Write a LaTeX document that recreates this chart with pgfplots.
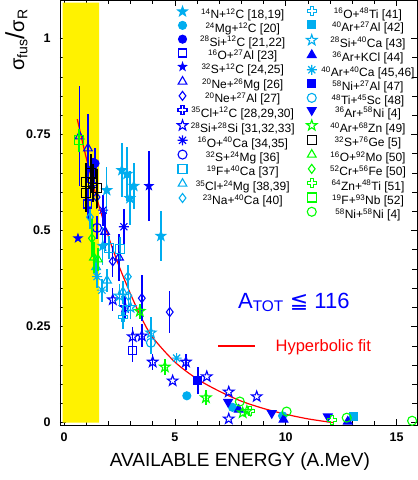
\documentclass[border=0pt]{standalone}
\usepackage{pgfplots}
\pgfplotsset{compat=1.18}
\usepackage{fontspec}
\setmainfont{Liberation Sans}
\newfontfamily\djv{DejaVu Sans}
\usetikzlibrary{plotmarks}

% ROOT-like marker shapes
\def\starpath{%
  \pgfpathmoveto{\pgfpointpolar{90}{\pgfplotmarksize}}%
  \pgfpathlineto{\pgfpointpolar{126}{0.4*\pgfplotmarksize}}%
  \pgfpathlineto{\pgfpointpolar{162}{\pgfplotmarksize}}%
  \pgfpathlineto{\pgfpointpolar{198}{0.4*\pgfplotmarksize}}%
  \pgfpathlineto{\pgfpointpolar{234}{\pgfplotmarksize}}%
  \pgfpathlineto{\pgfpointpolar{270}{0.4*\pgfplotmarksize}}%
  \pgfpathlineto{\pgfpointpolar{306}{\pgfplotmarksize}}%
  \pgfpathlineto{\pgfpointpolar{342}{0.4*\pgfplotmarksize}}%
  \pgfpathlineto{\pgfpointpolar{18}{\pgfplotmarksize}}%
  \pgfpathlineto{\pgfpointpolar{54}{0.4*\pgfplotmarksize}}%
  \pgfpathclose}
\pgfdeclareplotmark{fstar}{\starpath\pgfusepathqfillstroke}
\pgfdeclareplotmark{ostar}{\starpath\pgfusepathqstroke}
\pgfdeclareplotmark{ocross}{%
  \pgfpathmoveto{\pgfpoint{0.33*\pgfplotmarksize}{\pgfplotmarksize}}%
  \pgfpathlineto{\pgfpoint{0.33*\pgfplotmarksize}{0.33*\pgfplotmarksize}}%
  \pgfpathlineto{\pgfpoint{\pgfplotmarksize}{0.33*\pgfplotmarksize}}%
  \pgfpathlineto{\pgfpoint{\pgfplotmarksize}{-0.33*\pgfplotmarksize}}%
  \pgfpathlineto{\pgfpoint{0.33*\pgfplotmarksize}{-0.33*\pgfplotmarksize}}%
  \pgfpathlineto{\pgfpoint{0.33*\pgfplotmarksize}{-\pgfplotmarksize}}%
  \pgfpathlineto{\pgfpoint{-0.33*\pgfplotmarksize}{-\pgfplotmarksize}}%
  \pgfpathlineto{\pgfpoint{-0.33*\pgfplotmarksize}{-0.33*\pgfplotmarksize}}%
  \pgfpathlineto{\pgfpoint{-\pgfplotmarksize}{-0.33*\pgfplotmarksize}}%
  \pgfpathlineto{\pgfpoint{-\pgfplotmarksize}{0.33*\pgfplotmarksize}}%
  \pgfpathlineto{\pgfpoint{-0.33*\pgfplotmarksize}{0.33*\pgfplotmarksize}}%
  \pgfpathlineto{\pgfpoint{-0.33*\pgfplotmarksize}{\pgfplotmarksize}}%
  \pgfpathclose\pgfusepathqstroke}
\pgfdeclareplotmark{ast}{%
  \pgfpathmoveto{\pgfpointpolar{0}{\pgfplotmarksize}}\pgfpathlineto{\pgfpointpolar{180}{\pgfplotmarksize}}%
  \pgfpathmoveto{\pgfpointpolar{45}{\pgfplotmarksize}}\pgfpathlineto{\pgfpointpolar{225}{\pgfplotmarksize}}%
  \pgfpathmoveto{\pgfpointpolar{90}{\pgfplotmarksize}}\pgfpathlineto{\pgfpointpolar{270}{\pgfplotmarksize}}%
  \pgfpathmoveto{\pgfpointpolar{135}{\pgfplotmarksize}}\pgfpathlineto{\pgfpointpolar{315}{\pgfplotmarksize}}%
  \pgfusepathqstroke}

\newcommand\su[1]{\textsuperscript{#1}}
\newcommand\lgA[1]{\makebox[108pt]{#1}}
\newcommand\lgB[1]{\makebox[100pt]{#1}}

\pgfplotsset{
  frame/.style={
    scale only axis, width=357pt, height=425pt, at={(0,0)}, anchor=south west,
    xmin=-0.18, xmax=15.92, ymin=-0.006, ymax=1.1,
    clip=true,
  },
  ser/.style={only marks, color=#1, mark size=4pt, line width=1.1pt,
    error bars/y dir=both, error bars/y explicit, error bars/error mark=none,
    error bars/error bar style={line width=1.4pt}},
  lgd/.style={legend cell align=center,
    legend style={draw=none, fill=none, inner sep=0pt, row sep=0.3pt, column sep=1pt,
      font=\fontsize{12}{13}\selectfont,
      nodes={inner sep=0pt, text height=8.5pt, text depth=2.5pt}},
    legend image code/.code={\draw[##1] plot coordinates {(0pt,4pt)};}},
}

\begin{document}
\begin{tikzpicture}
\useasboundingbox (-60pt,-55pt) rectangle (358pt,425pt);
\begin{axis}[frame, lgd,
  legend style={at={(axis description cs:0.328,0.985)}, anchor=north west},
  xtick={0,5,10,15}, xticklabels={0,5,10,15},
  ytick={0,0.25,0.5,0.75,1}, yticklabels={0,0.25,0.5,0.75,1},
  minor x tick num=4, minor y tick num=4,
  major tick length=6pt, minor tick length=4.5pt,
  tick style={black, line width=0.6pt},
  axis line style={line width=0.8pt},
  tick label style={font=\fontsize{12.5}{14}\selectfont\bfseries},
  /pgf/number format/assume math mode=true,
  xticklabel style={yshift=-4pt},
  yticklabel style={xshift=-6pt},
  xlabel={AVAILABLE ENERGY (A.MeV)},
  xlabel style={font=\fontsize{19}{21}\selectfont, at={(axis description cs:0.504,-0.0965)}, anchor=base},
  ylabel={σ\textsubscript{fus}{\fontsize{26}{26}\selectfont/}σ\textsubscript{R}},
  ylabel style={font=\fontsize{20}{22}\selectfont, at={(axis description cs:-0.122,0.906)}, anchor=center},
]
% yellow band
\addplot[fill=yellow, draw=none, forget plot] coordinates {(-0.06,0) (1.59,0) (1.59,1.093) (-0.06,1.093)} \closedcycle;

% hyperbolic fit
\addplot[red, line width=1.2pt, smooth, forget plot] coordinates {
(0.6,0.79) (1.0,0.69) (1.5,0.58) (2.0,0.485) (2.5,0.405) (3.0,0.335) (3.5,0.272) (4.0,0.222)
(5.0,0.158) (6.0,0.114) (7.0,0.082) (8.0,0.056) (9.0,0.037) (10.0,0.022) (11.0,0.01) (12.15,0)};

\addplot[ser=cyan, mark=fstar, mark size=5pt] coordinates {
(1.93,0.605) +- (0,0.06) (2.61,0.657) +- (0,0.07) (2.84,0.647) +- (0,0.07) (3.15,0.616) +- (0,0.06)
(2.97,0.584) +- (0,0.07) (4.37,0.486) +- (0,0.065) (1.75,0.46) +- (0,0.05)};
\addlegendentry{\lgA{\su{14}N+\su{12}C [18,19]}}
\addplot[ser=cyan, mark=*] coordinates {(5.54,0.07) +- (0,0) (7.6,0.04) +- (0,0) (9.86,0.018) +- (0,0)};
\addlegendentry{\lgA{\su{24}Mg+\su{12}C [20]}}
\addplot[ser=blue, mark=*] coordinates {(1.4,0.675) +- (0,0.04) (1.3,0.66) +- (0,0.03)};
\addlegendentry{\lgA{\su{28}Si+\su{12}C [21,22]}}
\addplot[ser=blue, mark=square] coordinates {(3.1,0.187) +- (0,0.03) (1.08,0.569) +- (0,0.04)};
\addlegendentry{\lgA{\su{16}O+\su{27}Al [23]}}
\addplot[ser=blue, mark=fstar, mark size=4pt] coordinates {(3.83,0.616) +- (0,0.09) (0.63,0.48) +- (0,0)};
\addlegendentry{\lgA{\su{32}S+\su{12}C [24,25]}}
\addplot[ser=blue, mark=triangle, mark size=5pt] coordinates {
(0.7,0.745) +- (0,0.13) (1.08,0.714) +- (0,0.09) (1.85,0.497) +- (0,0.05) (2.48,0.43) +- (0,0.06)};
\addlegendentry{\lgA{\su{20}Ne+\su{26}Mg [26]}}
\addplot[ser=blue, mark=diamond, mark size=4.5pt] coordinates {
(4.77,0.288) +- (0,0.055) (3.51,0.324) +- (0,0.06) (1.47,0.587) +- (0,0.03) (2.2,0.42) +- (0,0.04)};
\addlegendentry{\lgA{\su{20}Ne+\su{27}Al [27]}}
\addplot[ser=blue, mark=ocross, mark size=4.5pt] coordinates {(1.3,0.62) +- (0,0.04)};
\addlegendentry{\lgA{\su{35}Cl+\su{12}C [28,29,30]}}
\addplot[ser=blue, mark=ostar, mark size=5.5pt] coordinates {
(2.2,0.32) +- (0,0.03) (2.75,0.30) +- (0,0.03) (3.1,0.224) +- (0,0.024) (3.51,0.226) +- (0,0.03)
(4.0,0.158) +- (0,0.02) (4.9,0.109) +- (0,0) (5.5,0.158) +- (0,0.02) (6.44,0.12) +- (0,0)
(7.43,0.08) +- (0,0) (7.43,0.01) +- (0,0) (8.69,0.068) +- (0,0)};
\addlegendentry{\lgA{\su{28}Si+\su{28}Si [31,32,33]}}
\addplot[ser=blue, mark=ast, mark size=5pt] coordinates {(2.7,0.51) +- (0,0.045) (1.76,0.553) +- (0,0.04)};
\addlegendentry{\lgA{\su{16}O+\su{40}Ca [34,35]}}
\addplot[ser=blue, mark=o, mark size=4.5pt] coordinates {(1.49,0.507) +- (0,0.03)};
\addlegendentry{\lgA{\su{32}S+\su{24}Mg [36]}}
\addplot[ser=cyan, mark=square, mark size=4.5pt] coordinates {(2.03,0.455) +- (0,0.03) (2.52,0.452) +- (0,0.03)};
\addlegendentry{\lgA{\su{19}F+\su{40}Ca [37]}}
\addplot[ser=cyan, mark=triangle, mark size=5pt] coordinates {(1.94,0.37) +- (0,0.03) (1.45,0.405) +- (0,0.03) (2.66,0.34) +- (0,0.03)};
\addlegendentry{\lgA{\su{35}Cl+\su{24}Mg [38,39]}}
\addplot[ser=cyan, mark=diamond, mark size=4.5pt] coordinates {(2.88,0.38) +- (0,0.03) (1.17,0.535) +- (0,0.03) (2.9,0.33) +- (0,0.03)};
\addlegendentry{\lgA{\su{23}Na+\su{40}Ca [40]}}

\draw[red, line width=1.2pt] (axis description cs:0.443,0.186) -- (axis description cs:0.546,0.186);
\node[red, anchor=base west, font=\fontsize{16.5}{18}\selectfont] at (axis description cs:0.594,0.172) {Hyperbolic fit};
\node[blue, anchor=base, font=\fontsize{22}{24}\selectfont] at (axis description cs:0.655,0.275)
  {A\textsubscript{TOT} {\djv ≦} 116};
\end{axis}

\begin{axis}[frame, lgd, hide axis,
  legend style={at={(axis description cs:0.69,0.985)}, anchor=north west}]
\addplot[ser=cyan, mark=ocross, mark size=4.5pt] coordinates {(2.66,0.275) +- (0,0.03)};
\addlegendentry{\lgB{\su{16}O+\su{48}Ti [41]}}
\addplot[ser=cyan, mark=square*] coordinates {(13.06,0.016) +- (0,0)};
\addlegendentry{\lgB{\su{40}Ar+\su{27}Al [42]}}
\addplot[ser=cyan, mark=ostar, mark size=5.5pt] coordinates {(3.92,0.234) +- (0,0.04) (3.0,0.30) +- (0,0.03) (2.5,0.33) +- (0,0.03)};
\addlegendentry{\lgB{\su{28}Si+\su{40}Ca [43]}}
\addplot[ser=blue, mark=triangle*, mark size=5pt] coordinates {(7.88,0.034) +- (0,0) (9.9,0.008) +- (0,0) (12.8,0.003) +- (0,0)};
\addlegendentry{\lgB{\su{36}Ar+KCl [44]}}
\addplot[ser=cyan, mark=ast, mark size=5pt] coordinates {(1.71,0.345) +- (0,0.03) (1.49,0.38) +- (0,0.03) (5.08,0.168) +- (0,0)};
\addlegendentry{\lgB{\su{40}Ar+\su{40}Ca [45,46]}}
\addplot[ser=blue, mark=square*] coordinates {(6.04,0.109) +- (0,0.035)};
\addlegendentry{\lgB{\su{58}Ni+\su{27}Al [47]}}
\addplot[ser=cyan, mark=o, mark size=4.5pt] coordinates {(3.92,0.208) +- (0,0.03)};
\addlegendentry{\lgB{\su{48}Ti+\su{45}Sc [48]}}
\addplot[ser=blue, mark=triangle*, mark size=5pt, every mark/.append style={rotate=180}] coordinates {
(7.4,0.054) +- (0,0) (9.37,0.025) +- (0,0) (11.9,0.016) +- (0,0)};
\addlegendentry{\lgB{\su{36}Ar+\su{58}Ni [4]}}
\addplot[ser=green, mark=ostar, mark size=5.5pt] coordinates {
(4.55,0.145) +- (0,0.02) (6.4,0.065) +- (0,0.02) (3.42,0.29) +- (0,0.02) (8.06,0.026) +- (0,0) (8.25,0.03) +- (0,0)};
\addlegendentry{\lgB{\su{40}Ar+\su{68}Zn [49]}}
\addplot[ser=black, mark=square, mark size=4.5pt] coordinates {
(0.99,0.626) +- (0,0.05) (1.21,0.649) +- (0,0.05) (1.31,0.624) +- (0,0.05) (1.49,0.61) +- (0,0.05) (0.99,0.597) +- (0,0.05)};
\addlegendentry{\lgB{\su{32}S+\su{76}Ge [5]}}
\addplot[ser=green, mark=triangle, mark size=5pt] coordinates {(1.35,0.43) +- (0,0.04) (1.53,0.425) +- (0,0.03)};
\addlegendentry{\lgB{\su{16}O+\su{92}Mo [50]}}
\addplot[ser=green, mark=diamond, mark size=4.5pt] coordinates {(1.26,0.48) +- (0,0.05)};
\addlegendentry{\lgB{\su{52}Cr+\su{56}Fe [50]}}
\addplot[ser=green, mark=ocross, mark size=4.5pt] coordinates {(8.38,0.031) +- (0,0) (12.1,0.008) +- (0,0)};
\addlegendentry{\lgB{\su{64}Zn+\su{48}Ti [51]}}
\addplot[ser=green, mark=square, mark size=4.5pt] coordinates {(0.68,0.735) +- (0,0.03)};
\addlegendentry{\lgB{\su{19}F+\su{93}Nb [52]}}
\addplot[ser=green, mark=o, mark size=4.5pt] coordinates {(7.93,0.055) +- (0,0) (10.04,0.029) +- (0,0) (12.75,0.013) +- (0,0) (15.7,0.005) +- (0,0)};
\addlegendentry{\lgB{\su{58}Ni+\su{58}Ni [4]}}
\end{axis}
\end{tikzpicture}
\end{document}
